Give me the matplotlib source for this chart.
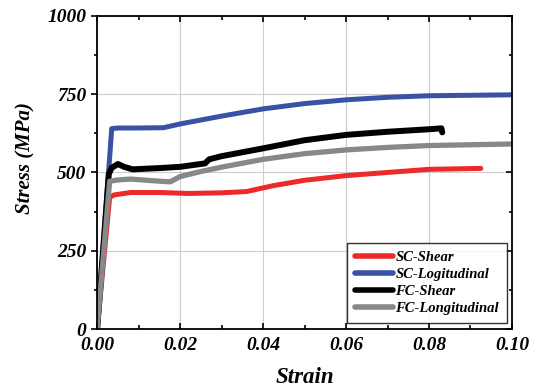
import matplotlib
matplotlib.use("Agg")
import matplotlib.pyplot as plt
from matplotlib.ticker import MultipleLocator, FormatStrFormatter

# data (strain, stress in MPa)
sc_shear_x = [0.0, 0.0030, 0.0040, 0.0080, 0.0150, 0.0220, 0.0300, 0.0360, 0.0425, 0.0500, 0.0600, 0.0700, 0.0800, 0.0925]
sc_shear_y = [0, 420, 428, 436, 436, 433, 435, 439, 458, 475, 490, 500, 510, 513]

sc_long_x = [0.0, 0.0035, 0.0050, 0.0100, 0.0160, 0.0200, 0.0300, 0.0400, 0.0500, 0.0600, 0.0700, 0.0800, 0.1000]
sc_long_y = [0, 640, 642, 642, 643, 655, 680, 703, 720, 732, 740, 745, 748]

fc_shear_x = [0.0, 0.0028, 0.0035, 0.0050, 0.0065, 0.0085, 0.0150, 0.0200, 0.0260, 0.0270, 0.0300, 0.0400, 0.0500, 0.0600, 0.0700, 0.0800, 0.0830, 0.0832]
fc_shear_y = [0, 495, 515, 527, 518, 510, 514, 518, 529, 542, 552, 577, 603, 620, 630, 638, 641, 628]

fc_long_x = [0.0, 0.0030, 0.0050, 0.0080, 0.0130, 0.0176, 0.0200, 0.0250, 0.0300, 0.0400, 0.0500, 0.0600, 0.0700, 0.0800, 0.1000]
fc_long_y = [0, 472, 476, 479, 474, 470, 487, 503, 517, 542, 560, 572, 580, 586, 591]

labels = ["SC-Shear", "SC-Logitudinal", "FC-Shear", "FC-Longitudinal"]
colors = ["#ec2a2a", "#3a52a5", "#000000", "#888888"]

plt.rcParams["font.family"] = "Liberation Serif"
plt.rcParams["font.weight"] = "bold"
plt.rcParams["font.style"] = "italic"

fig = plt.figure(figsize=(5.4, 3.88), dpi=100)
ax = fig.add_axes([0.18, 0.152, 0.768, 0.807])

series = [(sc_shear_x, sc_shear_y), (sc_long_x, sc_long_y),
          (fc_shear_x, fc_shear_y), (fc_long_x, fc_long_y)]
widths = [3.6, 3.6, 4.3, 3.8]
for (x, y), lab, c, w in zip(series, labels, colors, widths):
    ax.plot(x, y, color=c, lw=w, label=lab, solid_capstyle="round")

ax.set_xlim(0, 0.10)
ax.set_ylim(0, 1000)
ax.xaxis.set_major_locator(MultipleLocator(0.02))
ax.xaxis.set_minor_locator(MultipleLocator(0.01))
ax.yaxis.set_major_locator(MultipleLocator(250))
ax.yaxis.set_minor_locator(MultipleLocator(125))
ax.xaxis.set_major_formatter(FormatStrFormatter("%.2f"))
ax.grid(True, which="major", color="#cccccc", lw=0.8)
ax.set_axisbelow(True)

# left ticks point out, the other sides point in
ax.tick_params(which="both", top=True, right=True, width=1.2, labelsize=14)
ax.tick_params(axis="x", which="both", direction="in")
ax.tick_params(axis="y", which="both", direction="out")
ax.tick_params(axis="y", which="major", length=4.5, pad=3.5)
ax.tick_params(axis="y", which="minor", length=2)
ax.tick_params(axis="x", which="major", length=4.5, pad=6)
ax.tick_params(axis="x", which="minor", length=3)
for t in ax.yaxis.get_ticklines(minor=False)[1::2]:
    t.set_marker(matplotlib.lines.TICKLEFT)
for t in ax.yaxis.get_ticklines(minor=True)[1::2]:
    t.set_marker(matplotlib.lines.TICKLEFT)
for s in ax.spines.values():
    s.set_linewidth(1.3)

ax.set_xlabel("Strain", fontsize=16.5, fontweight="bold")
ax.set_ylabel("Stress (MPa)", fontsize=15, fontweight="bold")
ax.xaxis.set_label_coords(0.501, -0.12)
ax.yaxis.set_label_coords(-0.15, 0.546)

leg = ax.legend(loc="lower right", fontsize=10.5, frameon=True, fancybox=False,
                edgecolor="black", handlelength=2.6, handletextpad=0.15,
                borderpad=0.55, labelspacing=0.25, borderaxespad=0,
                bbox_to_anchor=(0.988, 0.019))
leg.get_frame().set_linewidth(1.0)
for h in leg.get_lines():
    h.set_linewidth(4)

fig.savefig("out.png", dpi=100)
